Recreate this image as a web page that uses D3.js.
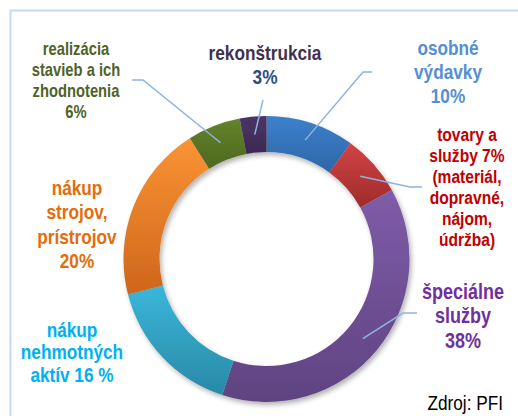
<!DOCTYPE html>
<html>
<head>
<meta charset="utf-8">
<script src="https://cdn.jsdelivr.net/npm/d3@7"></script>
<style>
  html, body { margin: 0; padding: 0; background: #fff; }
  #chart { width: 518px; height: 416px; }
  text { font-family: "Liberation Sans", Arial, sans-serif; }
</style>
</head>
<body>
<div id="chart"></div>
<script>
// Donut of expenditure shares, slices clockwise from 12 o'clock.

const categories = ['osobné výdavky', 'tovary a služby', 'špeciálne služby', 'nákup nehmotných aktív',
  'nákup strojov, prístrojov', 'realizácia stavieb a ich zhodnotenia', 'rekonštrukcia'];
const shares = [10, 7, 38, 16, 20, 6, 3];
const fillTop = ['#3d80cc', '#d24443', '#7f5ca9', '#3ab6da', '#fa9434', '#64832b', '#4b3566'];
const fillBottom = ['#2e66a7', '#9e2b2a', '#5f4381', '#2a89a6', '#cd661c', '#4d681f', '#3b2951'];
const labelLines = [
  ['osobné', 'výdavky', '10%'],
  ['tovary a', 'služby 7%', '(materiál,', 'dopravné,', 'nájom,', 'údržba)'],
  ['špeciálne', 'služby', '38%'],
  ['nákup', 'nehmotných', 'aktív 16 %'],
  ['nákup', 'strojov,', 'prístrojov', '20%'],
  ['realizácia', 'stavieb a ich', 'zhodnotenia', '6%'],
  ['rekonštrukcia', '3%']
];
const source = 'Zdroj: PFI';

// label placement (layout only)
const labelLayout = [
  { x: 448, y: 55, lh: 24, size: 21, colors: ['#558ed5'], leader: [[363, 72], [372, 72]] },
  { x: 467, y: 141, lh: 21, size: 19, colors: ['#c00000'], leader: [[410, 187], [422, 187]] },
  { x: 463, y: 299, lh: 24.5, size: 22, colors: ['#7030a0'], leader: [[403, 313], [417, 313]] },
  { x: 72, y: 337, lh: 22.5, size: 21, colors: ['#00b0f0'], leader: null },
  { x: 77, y: 195, lh: 24.3, size: 21, colors: ['#e46c0a'], leader: null },
  { x: 76, y: 55, lh: 21, size: 18, colors: ['#4f6228'], leader: [[143, 80], [132, 80]] },
  { x: 265, y: 60.5, lh: 23.5, size: 21, colors: ['#3f3151', '#2a4f86'], leader: [[263, 100]] }
];

const W = 518, H = 416;
const cx = 266.5, cy = 259;
const rOuter = 143, rInner = 107;
const narrow = 0.82; // no Arial Narrow here, squeeze Liberation Sans instead

const svg = d3.select('#chart').append('svg')
  .attr('width', W).attr('height', H)
  .attr('viewBox', `0 0 ${W} ${H}`);

const defs = svg.append('defs');
const shadow = defs.append('filter').attr('id', 'shadow')
  .attr('x', '-20%').attr('y', '-20%').attr('width', '140%').attr('height', '140%');
shadow.append('feDropShadow')
  .attr('dx', 2).attr('dy', 3).attr('stdDeviation', 2.5)
  .attr('flood-color', '#000').attr('flood-opacity', 0.3);

shares.forEach((_, i) => {
  const lg = defs.append('linearGradient').attr('id', 'grad' + i)
    .attr('x1', 0).attr('y1', 0).attr('x2', 0).attr('y2', 1);
  lg.append('stop').attr('offset', '0%').attr('stop-color', fillTop[i]);
  lg.append('stop').attr('offset', '100%').attr('stop-color', fillBottom[i]);
});

// frame
svg.append('rect')
  .attr('x', 10.5).attr('y', 10.5).attr('width', 600).attr('height', 500)
  .attr('fill', 'none').attr('stroke', '#c6d9f1').attr('stroke-width', 2);

const pie = d3.pie().sort(null).value((d) => d).startAngle(0).endAngle(2 * Math.PI);
const arc = d3.arc().innerRadius(rInner).outerRadius(rOuter);
const arcs = pie(shares);

const ring = svg.append('g')
  .attr('transform', `translate(${cx}, ${cy})`)
  .attr('filter', 'url(#shadow)');

ring.selectAll('path.slice').data(arcs).enter().append('path')
  .attr('class', 'slice')
  .attr('d', arc)
  .attr('fill', (d, i) => `url(#grad${i})`)
  .append('title').text((d, i) => `${categories[i]}: ${shares[i]} %`);

// leader lines
const leaders = svg.append('g').attr('fill', 'none')
  .attr('stroke', '#8db3e2').attr('stroke-width', 1.5);
arcs.forEach((a, i) => {
  const lay = labelLayout[i];
  if (!lay.leader) return;
  const c = arc.centroid(a);
  const pts = [[cx + c[0], cy + c[1]], ...lay.leader];
  leaders.append('path').attr('d', d3.line()(pts));
});

// labels
const squeeze = (x) => `translate(${x},0) scale(${narrow},1) translate(${-x},0)`;
const labels = svg.append('g').attr('font-weight', 'bold').attr('text-anchor', 'middle');
labelLines.forEach((lines, i) => {
  const lay = labelLayout[i];
  const t = labels.append('text').attr('font-size', lay.size)
    .attr('transform', squeeze(lay.x));
  lines.forEach((s, j) => {
    t.append('tspan')
      .attr('x', lay.x).attr('y', lay.y + j * lay.lh)
      .attr('fill', lay.colors[Math.min(j, lay.colors.length - 1)])
      .text(s);
  });
});

svg.append('text')
  .attr('x', 503).attr('y', 410)
  .attr('text-anchor', 'end')
  .attr('transform', squeeze(503))
  .attr('font-size', 21)
  .attr('fill', '#000')
  .text(source);
</script>
</body>
</html>
